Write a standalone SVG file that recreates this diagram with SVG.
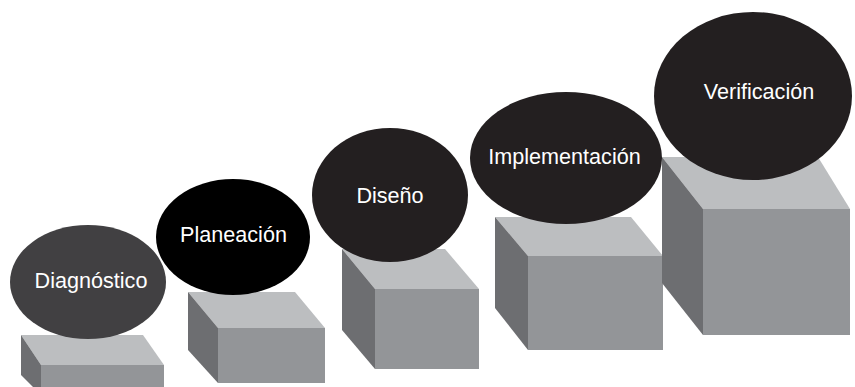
<svg xmlns="http://www.w3.org/2000/svg" width="855" height="387" viewBox="0 0 855 387">
<style>
.top{fill:#bcbec0}
.front{fill:#939598}
.side{fill:#6d6e71}
.lbl{font-family:"Liberation Sans",Arial,sans-serif;font-size:21.6px;fill:#ffffff;text-anchor:middle}
</style>
<rect width="855" height="387" fill="#ffffff"/>
<g id="box1">
<polygon class="top" points="21,335 143,335 164,365 41,365"/>
<polygon class="side" points="21,335 41,365 41,395 21,375"/>
<rect class="front" x="41" y="365" width="123" height="30"/>
</g>
<g id="box2">
<polygon class="top" points="188,292 295,292 325,328 218,328"/>
<polygon class="side" points="188,292 218,328 218,383 188,350"/>
<rect class="front" x="218" y="328" width="107" height="55"/>
</g>
<g id="box3">
<polygon class="top" points="342,249 445,249 479,289 375,289"/>
<polygon class="side" points="342,249 375,289 375,369 342,330"/>
<rect class="front" x="375" y="289" width="104" height="80"/>
</g>
<g id="box4">
<polygon class="top" points="495,217 631,217 663,256 528,256"/>
<polygon class="side" points="495,217 528,256 528,350 495,308"/>
<rect class="front" x="528" y="256" width="135" height="94"/>
</g>
<g id="box5">
<polygon class="top" points="662,157 818,157 850,209 703,209"/>
<polygon class="side" points="662,157 703,209 703,335 662,283"/>
<rect class="front" x="703" y="209" width="147" height="126"/>
</g>
<g id="diagnostico">
<ellipse cx="88" cy="282" rx="78" ry="57" fill="#414042"/>
<text class="lbl" x="91" y="288">Diagnóstico</text>
</g>
<g id="planeacion">
<ellipse cx="233" cy="237" rx="77" ry="58" fill="#000000"/>
<text class="lbl" x="233.5" y="242">Planeación</text>
</g>
<g id="diseno">
<ellipse cx="390" cy="195" rx="78" ry="67" fill="#231f20"/>
<text class="lbl" x="390" y="203">Diseño</text>
</g>
<g id="implementacion">
<ellipse cx="566" cy="158" rx="96" ry="66" fill="#231f20"/>
<text class="lbl" x="564.5" y="164">Implementación</text>
</g>
<g id="verificacion">
<ellipse cx="753" cy="96" rx="99" ry="84" fill="#231f20"/>
<text class="lbl" x="759" y="99">Verificación</text>
</g>
<g id="connectors"/>
</svg>
